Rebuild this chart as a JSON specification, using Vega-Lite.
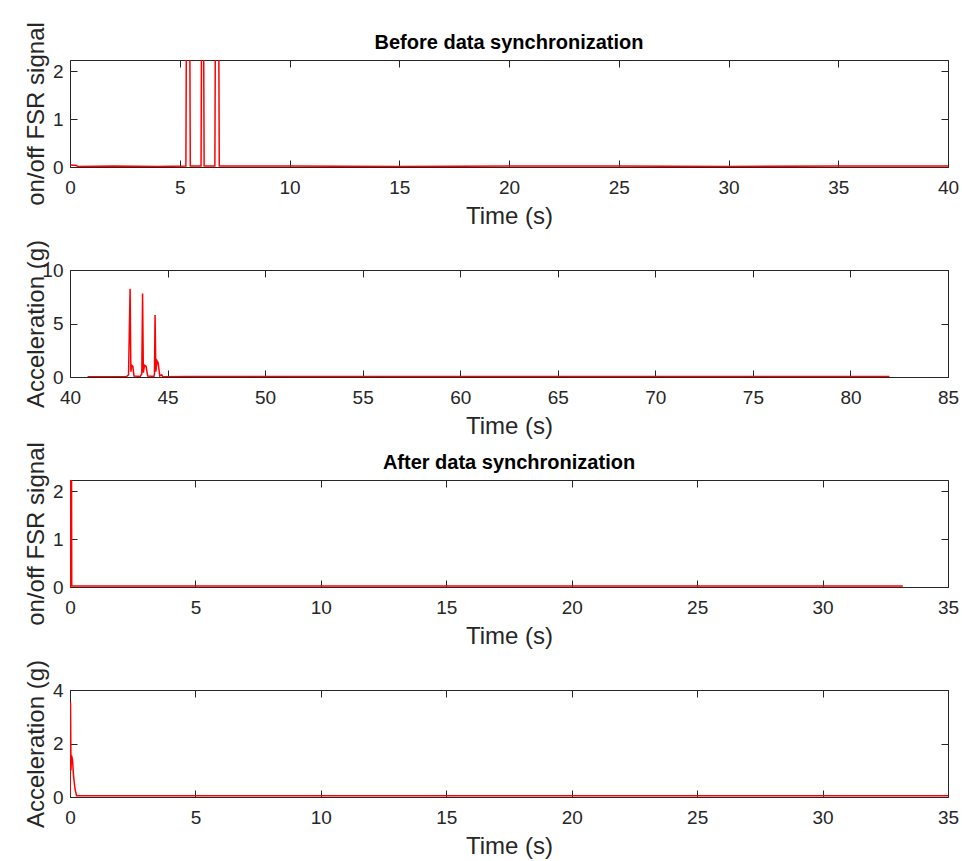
{
  "$schema": "https://vega.github.io/schema/vega-lite/v6.json",
  "background": "white",
  "padding": {"left": 23, "top": 21, "right": 0, "bottom": 0},
  "bounds": "flush",
  "spacing": 103,
  "config": {
    "font": "Liberation Sans",
    "view": {"stroke": "#262626", "strokeWidth": 1},
    "axis": {
      "grid": false,
      "domain": false,
      "labelFont": "Liberation Sans",
      "labelFontSize": 19,
      "labelColor": "#262626",
      "labelFlush": false,
      "labelOverlap": false,
      "titleFont": "Liberation Sans",
      "titleFontSize": 24,
      "titleFontWeight": "normal",
      "titleColor": "#262626",
      "tickColor": "#262626",
      "tickSize": -7,
      "tickWidth": 1
    },
    "axisBottom": {"labelPadding": 18, "titleY": 37, "titleBaseline": "top"},
    "axisLeft": {"labelPadding": 14, "titleX": -22, "titleBaseline": "bottom"},
    "title": {"font": "Liberation Sans", "fontSize": 20, "fontWeight": "bold", "color": "#000000", "anchor": "middle", "offset": -31}
  },
  "datasets": {
    "fsrBefore": [
      {"t": 0, "v": 0.04}, {"t": 0.3, "v": 0.03}, {"t": 0.35, "v": 0.01}, {"t": 2, "v": 0.02}, {"t": 4, "v": 0.01},
      {"t": 5.28, "v": 0.02}, {"t": 5.3, "v": 2.5}, {"t": 5.46, "v": 2.5}, {"t": 5.48, "v": 0.02},
      {"t": 5.97, "v": 0.02}, {"t": 5.99, "v": 2.5}, {"t": 6.09, "v": 2.5}, {"t": 6.11, "v": 0.02},
      {"t": 6.6, "v": 0.02}, {"t": 6.62, "v": 2.5}, {"t": 6.78, "v": 2.5}, {"t": 6.8, "v": 0.02},
      {"t": 10, "v": 0.02}, {"t": 15, "v": 0.01}, {"t": 20, "v": 0.02}, {"t": 25, "v": 0.02}, {"t": 30, "v": 0.01}, {"t": 35, "v": 0.02}, {"t": 40, "v": 0.02}
    ],
    "accBefore": [
      {"t": 40.9, "v": 0.03}, {"t": 42.9, "v": 0.05}, {"t": 43.0, "v": 0.2}, {"t": 43.08, "v": 8.25}, {"t": 43.12, "v": 0.5},
      {"t": 43.16, "v": 1.1}, {"t": 43.22, "v": 1.0}, {"t": 43.28, "v": 0.1}, {"t": 43.6, "v": 0.05}, {"t": 43.68, "v": 0.3},
      {"t": 43.72, "v": 7.8}, {"t": 43.76, "v": 0.4}, {"t": 43.82, "v": 1.1}, {"t": 43.9, "v": 1.0}, {"t": 43.98, "v": 0.1},
      {"t": 44.3, "v": 0.05}, {"t": 44.33, "v": 0.3}, {"t": 44.36, "v": 5.8}, {"t": 44.4, "v": 0.5}, {"t": 44.46, "v": 1.5},
      {"t": 44.52, "v": 1.3}, {"t": 44.6, "v": 0.1}, {"t": 44.7, "v": 0.2}, {"t": 44.75, "v": 0.03}, {"t": 46, "v": 0.05},
      {"t": 50, "v": 0.04}, {"t": 55, "v": 0.05}, {"t": 60, "v": 0.04}, {"t": 65, "v": 0.05}, {"t": 70, "v": 0.04}, {"t": 75, "v": 0.05}, {"t": 82, "v": 0.04}
    ],
    "fsrAfter": [
      {"t": 0, "v": 0.02}, {"t": 0.02, "v": 0.02}, {"t": 0.03, "v": 2.5}, {"t": 0.06, "v": 2.5}, {"t": 0.07, "v": 0.02},
      {"t": 5, "v": 0.02}, {"t": 10, "v": 0.02}, {"t": 15, "v": 0.02}, {"t": 20, "v": 0.02}, {"t": 25, "v": 0.02}, {"t": 30, "v": 0.02}, {"t": 33.2, "v": 0.02}
    ],
    "accAfter": [
      {"t": 0, "v": 0.05}, {"t": 0.02, "v": 3.55}, {"t": 0.04, "v": 1.0}, {"t": 0.06, "v": 1.55}, {"t": 0.1, "v": 1.4},
      {"t": 0.14, "v": 0.8}, {"t": 0.2, "v": 0.3}, {"t": 0.26, "v": 0.05}, {"t": 5, "v": 0.05}, {"t": 10, "v": 0.05},
      {"t": 15, "v": 0.05}, {"t": 20, "v": 0.05}, {"t": 25, "v": 0.05}, {"t": 30, "v": 0.05}, {"t": 35, "v": 0.05}
    ]
  },
  "vconcat": [
    {
      "title": "Before data synchronization",
      "width": 878, "height": 107,
      "data": {"name": "fsrBefore"},
      "layer": [
        {
          "mark": {"type": "line", "color": "#ff0000", "strokeWidth": 1.5, "clip": true},
          "encoding": {
            "x": {"field": "t", "type": "quantitative", "scale": {"domain": [0, 40], "nice": false}, "axis": {"values": [0,5,10,15,20,25,30,35,40], "title": "Time (s)"}},
            "y": {"field": "v", "type": "quantitative", "scale": {"domain": [0, 2.23], "nice": false}, "axis": {"values": [0,1,2], "title": "on/off FSR signal"}}
          }
        },
        {
          "mark": {"type": "line", "strokeOpacity": 0, "clip": true},
          "encoding": {
            "x": {"field": "t", "type": "quantitative", "scale": {"domain": [0, 40], "nice": false}, "axis": {"orient": "top", "values": [0,5,10,15,20,25,30,35,40], "labels": false, "title": null}},
            "y": {"field": "v", "type": "quantitative", "scale": {"domain": [0, 2.23], "nice": false}, "axis": {"orient": "right", "values": [0,1,2], "labels": false, "title": null}}
          }
        }
      ],
      "resolve": {"axis": {"x": "independent", "y": "independent"}}
    },
    {
      "width": 878, "height": 107,
      "data": {"name": "accBefore"},
      "layer": [
        {
          "mark": {"type": "line", "color": "#ff0000", "strokeWidth": 1.5, "clip": true},
          "encoding": {
            "x": {"field": "t", "type": "quantitative", "scale": {"domain": [40, 85], "nice": false, "zero": false}, "axis": {"values": [40,45,50,55,60,65,70,75,80,85], "title": "Time (s)"}},
            "y": {"field": "v", "type": "quantitative", "scale": {"domain": [0, 10], "nice": false}, "axis": {"values": [0,5,10], "title": "Acceleration (g)"}}
          }
        },
        {
          "mark": {"type": "line", "strokeOpacity": 0, "clip": true},
          "encoding": {
            "x": {"field": "t", "type": "quantitative", "scale": {"domain": [40, 85], "nice": false, "zero": false}, "axis": {"orient": "top", "values": [40,45,50,55,60,65,70,75,80,85], "labels": false, "title": null}},
            "y": {"field": "v", "type": "quantitative", "scale": {"domain": [0, 10], "nice": false}, "axis": {"orient": "right", "values": [0,5,10], "labels": false, "title": null}}
          }
        }
      ],
      "resolve": {"axis": {"x": "independent", "y": "independent"}}
    },
    {
      "title": "After data synchronization",
      "width": 878, "height": 107,
      "data": {"name": "fsrAfter"},
      "layer": [
        {
          "mark": {"type": "line", "color": "#ff0000", "strokeWidth": 1.5, "clip": true},
          "encoding": {
            "x": {"field": "t", "type": "quantitative", "scale": {"domain": [0, 35], "nice": false}, "axis": {"values": [0,5,10,15,20,25,30,35], "title": "Time (s)"}},
            "y": {"field": "v", "type": "quantitative", "scale": {"domain": [0, 2.23], "nice": false}, "axis": {"values": [0,1,2], "title": "on/off FSR signal"}}
          }
        },
        {
          "mark": {"type": "line", "strokeOpacity": 0, "clip": true},
          "encoding": {
            "x": {"field": "t", "type": "quantitative", "scale": {"domain": [0, 35], "nice": false}, "axis": {"orient": "top", "values": [0,5,10,15,20,25,30,35], "labels": false, "title": null}},
            "y": {"field": "v", "type": "quantitative", "scale": {"domain": [0, 2.23], "nice": false}, "axis": {"orient": "right", "values": [0,1,2], "labels": false, "title": null}}
          }
        }
      ],
      "resolve": {"axis": {"x": "independent", "y": "independent"}}
    },
    {
      "width": 878, "height": 107,
      "data": {"name": "accAfter"},
      "layer": [
        {
          "mark": {"type": "line", "color": "#ff0000", "strokeWidth": 1.5, "clip": true},
          "encoding": {
            "x": {"field": "t", "type": "quantitative", "scale": {"domain": [0, 35], "nice": false}, "axis": {"values": [0,5,10,15,20,25,30,35], "title": "Time (s)"}},
            "y": {"field": "v", "type": "quantitative", "scale": {"domain": [0, 4], "nice": false}, "axis": {"values": [0,2,4], "title": "Acceleration (g)"}}
          }
        },
        {
          "mark": {"type": "line", "strokeOpacity": 0, "clip": true},
          "encoding": {
            "x": {"field": "t", "type": "quantitative", "scale": {"domain": [0, 35], "nice": false}, "axis": {"orient": "top", "values": [0,5,10,15,20,25,30,35], "labels": false, "title": null}},
            "y": {"field": "v", "type": "quantitative", "scale": {"domain": [0, 4], "nice": false}, "axis": {"orient": "right", "values": [0,2,4], "labels": false, "title": null}}
          }
        }
      ],
      "resolve": {"axis": {"x": "independent", "y": "independent"}}
    }
  ]
}
